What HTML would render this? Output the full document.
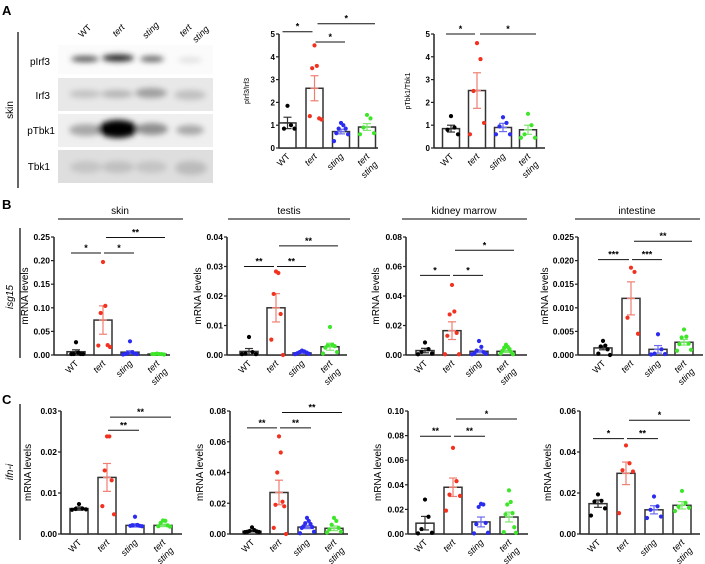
<!DOCTYPE html>
<html><head><meta charset="utf-8"><style>
html,body{margin:0;padding:0;background:#fff;}
svg{display:block;font-family:"Liberation Sans",Arial,sans-serif;}
</style></head><body>
<svg id="s" width="705" height="564" viewBox="0 0 705 564" xmlns="http://www.w3.org/2000/svg">
<defs>
<filter id="bl" x="-50%" y="-100%" width="200%" height="300%"><feGaussianBlur stdDeviation="3"/></filter>
</defs>
<text x="2" y="15" font-size="13" font-weight="bold">A</text>
<text x="2" y="209" font-size="13" font-weight="bold">B</text>
<text x="2" y="404" font-size="13" font-weight="bold">C</text>
<line x1="18" y1="32" x2="18" y2="188" stroke="#000" stroke-width="1.2"/>
<text transform="translate(13,110) rotate(-90)" font-size="10" text-anchor="middle">skin</text>
<rect x="58" y="45" width="155" height="29" fill="#fbfbfb"/>
<rect x="58" y="78" width="155" height="33" fill="#e8e8e8"/>
<rect x="58" y="114" width="155" height="33" fill="#efefef"/>
<rect x="58" y="150" width="155" height="33" fill="#dedede"/>
<g filter="url(#bl)">
<ellipse cx="85" cy="59" rx="14" ry="3" fill="#555"/>
<ellipse cx="118" cy="58" rx="16" ry="3.5" fill="#222"/>
<ellipse cx="152" cy="59" rx="12" ry="3" fill="#666"/>
<ellipse cx="190" cy="60" rx="12" ry="2.5" fill="#ddd"/>
<ellipse cx="85" cy="94" rx="16" ry="4" fill="#c2c2c2"/>
<ellipse cx="117" cy="94" rx="16" ry="4" fill="#b5b5b5"/>
<ellipse cx="151" cy="93" rx="16" ry="5" fill="#9e9e9e"/>
<ellipse cx="190" cy="95" rx="16" ry="5" fill="#c0c0c0"/>
<ellipse cx="86" cy="130" rx="17" ry="6" fill="#a8a8a8"/>
<ellipse cx="118" cy="129" rx="20" ry="9" fill="#000"/>
<ellipse cx="152" cy="129" rx="16" ry="6" fill="#8e8e8e"/>
<ellipse cx="190" cy="130" rx="14" ry="5" fill="#a8a8a8"/>
<ellipse cx="86" cy="167" rx="16" ry="6" fill="#c4c4c4"/>
<ellipse cx="118" cy="167" rx="16" ry="6" fill="#c0c0c0"/>
<ellipse cx="151" cy="167" rx="16" ry="6" fill="#c4c4c4"/>
<ellipse cx="191" cy="168" rx="16" ry="7" fill="#bbb"/>
</g>
<text x="50" y="65" font-size="10" text-anchor="end">pIrf3</text>
<text x="50" y="99" font-size="10" text-anchor="end">Irf3</text>
<text x="55" y="134" font-size="10" text-anchor="end">pTbk1</text>
<text x="50" y="170" font-size="10" text-anchor="end">Tbk1</text>
<g font-size="9">
<text transform="translate(82,38) rotate(-45)">WT</text>
<text transform="translate(116,37) rotate(-45)" font-style="italic">tert</text>
<text transform="translate(146,39) rotate(-45)" font-style="italic">sting</text>
<text transform="translate(183,37) rotate(-45)" font-style="italic">tert</text>
<text transform="translate(196,43) rotate(-45)" font-style="italic">sting</text>
</g>
<g stroke="#000" stroke-width="1">
<line x1="58" y1="219" x2="183" y2="219"/><line x1="228" y1="219" x2="350" y2="219"/>
<line x1="402" y1="219" x2="527" y2="219"/><line x1="575" y1="219" x2="700" y2="219"/>
<line x1="20" y1="228" x2="20" y2="358" stroke-width="1.2"/>
<line x1="20" y1="404" x2="20" y2="540" stroke-width="1.2"/>
</g>
<g font-size="10" text-anchor="middle">
<text x="120" y="214">skin</text><text x="289" y="214">testis</text>
<text x="464" y="214">kidney marrow</text><text x="637" y="214">intestine</text>
</g>
<text transform="translate(13,297) rotate(-90)" font-size="10" font-style="italic" text-anchor="middle">isg15</text>
<text transform="translate(13,472) rotate(-90)" font-size="10" font-style="italic" text-anchor="middle">ifn-i</text>
<g id="charts"></g>
</svg>
<script>
var NS="http://www.w3.org/2000/svg";
var G=document.getElementById("charts");
function el(t,a,txt){var e=document.createElementNS(NS,t);for(var k in a)e.setAttribute(k,a[k]);if(txt!==undefined)e.textContent=txt;G.appendChild(e);return e;}
var COL=["#000","#f2321f","#2b2cf0","#3ee62a"];
var ECOL=["#333","#ef7f72","#6d6df0","#7fe870"];
function chart(c){
 var ax=c.ax,yb=c.yb,yt=c.yt,max=c.max,cx=c.cx,fs=c.fs||8.5;
 function Y(v){return yb-(v/max)*(yb-yt);}
 el("line",{x1:ax,y1:yt,x2:ax,y2:yb,stroke:"#222","stroke-width":1.5});
 el("line",{x1:ax,y1:yb,x2:c.xe,y2:yb,stroke:"#222","stroke-width":1.5});
 for(var v=0;v<=max+1e-9;v+=c.step){
  var y=Y(v);
  el("line",{x1:ax-3,y1:y,x2:ax,y2:y,stroke:"#222","stroke-width":1.2});
  el("text",{x:ax-4,y:y+3,"font-size":fs,"font-weight":"bold","text-anchor":"end"},v.toFixed(c.dec));
 }
 el("text",{transform:"translate("+(c.lx)+","+((yt+yb)/2)+") rotate(-90)","font-size":c.lfs||10,"text-anchor":"middle"},c.ylab||"mRNA levels");
 var bw=c.bw||18;
 for(var i=0;i<4;i++){
  var g=c.g[i],m=g[0],se=g[1],pts=g[2],x=cx[i];
  el("rect",{x:x-bw/2,y:Y(m),width:bw,height:yb-Y(m),fill:"#fff",stroke:"#333","stroke-width":1.5});
  var lo=m-se<0?0:m-se;
  el("line",{x1:x-4,y1:Y(m),x2:x+4,y2:Y(m),stroke:ECOL[i],"stroke-width":1.3});
  el("line",{x1:x,y1:Y(m+se),x2:x,y2:Y(lo),stroke:ECOL[i],"stroke-width":1.2});
  el("line",{x1:x-4,y1:Y(m+se),x2:x+4,y2:Y(m+se),stroke:ECOL[i],"stroke-width":1.2});
  el("line",{x1:x-4,y1:Y(lo),x2:x+4,y2:Y(lo),stroke:ECOL[i],"stroke-width":1.2});
  var n=pts.length,half=Math.ceil((n-1)/2)||1;
  for(var j=0;j<n;j++){
   var off=n>1?((j%2?1:-1)*Math.ceil(j/2)*7/half):0;
   el("circle",{cx:x+off,cy:Y(pts[j]),r:2.1,fill:COL[i]});
  }
  var lab=[["WT"],["tert"],["sting"],["tert","sting"]][i];
  el("text",{transform:"translate("+(x+3)+","+(yb+9)+") rotate(-45)","font-size":9,"text-anchor":"end","font-style":i?"italic":"normal"},lab[0]);
  if(lab[1])el("text",{transform:"translate("+(x+11)+","+(yb+17)+") rotate(-45)","font-size":9,"text-anchor":"end","font-style":"italic"},lab[1]);
 }
 c.sig.forEach(function(s){
  var x1,x2;
  if(s[0]==0){x1=cx[0]-5;x2=cx[1]-2;}
  else if(s[1]==2){x1=cx[1]+1;x2=cx[2]+4;}
  else {x1=cx[1]+3;x2=cx[3]+8;}
  var y=Y(s[2]);
  el("line",{x1:x1,y1:y,x2:x2,y2:y,stroke:"#111","stroke-width":1});
  el("text",{x:(x1+x2)/2,y:y-2,"font-size":9,"font-weight":"bold","text-anchor":"middle"},s[3]);
 });
}
chart({ax:279,yb:148,yt:34,xe:378,max:5,step:1,dec:0,cx:[287.5,314.5,341,367],bw:17,lx:249,ylab:"pIrf3/Irf3",lfs:7,fs:8,
 g:[[1.1,.25,[1.85,1.0,.85,.85]],[2.62,.55,[4.5,3.6,3.5,1.3,1.4,1.25]],[.72,.1,[1.1,1.0,.85,.85,.65,.6,.3]],[.92,.15,[1.45,1.3,.9,.65,.6]]],
 sig:[[0,1,5.1,"*"],[1,2,4.65,"*"],[1,3,5.45,"*"]]});
chart({ax:434,yb:148,yt:34,xe:545,max:5,step:1,dec:0,cx:[451,477,503,528],bw:17,lx:410,ylab:"pTbk1/Tbk1",lfs:7,fs:8,
 g:[[.85,.15,[1.4,.9,.8,.6]],[2.52,.78,[4.6,3.9,2.5,1.1,.6]],[.9,.18,[1.35,1.1,.95,.6,.6]],[.8,.2,[1.5,1.0,.6,.45,.45]]],
 sig:[[0,1,5.0,"*"],[1,3,5.0,"*"]]});
chart({ax:54,yb:355,yt:237,xe:170,max:.25,step:.05,dec:2,cx:[76,103,130,157],lx:28,
 g:[[.007,.004,[.027,.005,.002,.002,.002,.002]],[.074,.03,[.197,.104,.089,.021,.020,.017]],[.006,.003,[.029,.006,.004,.003,.002,.002,.001]],[.002,.0005,[.003,.002,.002,.002,.002,.001]]],
 sig:[[0,1,.216,"*"],[1,2,.216,"*"],[1,3,.249,"**"]]});
chart({ax:227,yb:355,yt:237,xe:347,max:.04,step:.01,dec:2,cx:[249,276,302,330],lx:201,
 g:[[.0012,.001,[.0061,.001,.0005,.0003,.0003]],[.016,.0048,[.0283,.0278,.0207,.0139,.0052,0]],[.0007,.0002,[.0015,.0012,.001,.0008,.0006,.0004,.0003]],[.0028,.0012,[.0095,.0035,.0032,.003,.0025,.001,.0005]]],
 sig:[[0,1,.03,"**"],[1,2,.03,"**"],[1,3,.037,"**"]]});
chart({ax:406,yb:355,yt:237,xe:527,max:.08,step:.02,dec:2,cx:[425,452,479,506],lx:379,
 g:[[.003,.0015,[.0085,.004,.002,.001,.0005]],[.0165,.006,[.0475,.0295,.0275,.015,.013,.0005,.0005]],[.0025,.001,[.0095,.0055,.003,.002,.001,.0008,.0005]],[.0025,.0008,[.007,.0055,.005,.004,.003,.002,.001,.0005]]],
 sig:[[0,1,.054,"*"],[1,2,.054,"*"],[1,3,.071,"*"]]});
chart({ax:578,yb:355,yt:237,xe:703,max:.025,step:.005,dec:3,cx:[603,631,658,684],lx:548,
 g:[[.0015,.0004,[.003,.002,.0018,.0012,.0003,0]],[.012,.0035,[.0185,.0176,.0079,.0045]],[.0012,.0008,[.0044,.0012,.0003,.0002,.0001]],[.0027,.0006,[.0054,.0039,.0037,.0024,.0023,.0011,.0009]]],
 sig:[[0,1,.0202,"***"],[1,2,.0202,"***"],[1,3,.0241,"**"]]});
chart({ax:61,yb:534,yt:411,xe:182,max:.03,step:.01,dec:2,cx:[79,107,135,163],lx:31,
 g:[[.0062,.0004,[.0073,.0062,.0061,.006,.0059]],[.0138,.0034,[.0238,.0238,.0155,.0131,.0068,.0048]],[.0021,.0004,[.0042,.0022,.0021,.002,.002,.0019]],[.0021,.0003,[.0033,.0032,.0027,.0021,.0019,.0018]]],
 sig:[[1,2,.0253,"**"],[1,3,.0285,"**"]]});
chart({ax:230,yb:534,yt:411,xe:348,max:.08,step:.02,dec:2,cx:[252,279,307,334],lx:203,
 g:[[.0018,.0004,[.0043,.0025,.002,.0017,.0015,.0013,.0012]],[.027,.008,[.0635,.053,.04,.021,.019,.018,.004,0]],[.0045,.001,[.0105,.0085,.007,.0065,.005,.0045,.004,.0015,.0005]],[.0037,.0015,[.0105,.0085,.006,.004,.003,.0015,.001]]],
 sig:[[0,1,.069,"**"],[1,2,.069,"**"],[1,3,.079,"**"]]});
chart({ax:408,yb:534,yt:411,xe:528,max:.10,step:.02,dec:2,cx:[425,453,481,509],lx:381,
 g:[[.0088,.0055,[.028,.014,.004,.001,.0005]],[.038,.0075,[.07,.043,.032,.031,.019]],[.0098,.004,[.0245,.024,.022,.009,.008,.001,.0005]],[.0138,.004,[.0355,.026,.024,.017,.016,.0055,.0015,.001]]],
 sig:[[0,1,.0795,"**"],[1,2,.0795,"**"],[1,3,.0935,"*"]]});
chart({ax:580,yb:534,yt:411,xe:700,max:.06,step:.02,dec:2,cx:[598,626,654,682],lx:551,
 g:[[.0148,.0018,[.0193,.0162,.0158,.0125,.009]],[.0296,.0055,[.0432,.0345,.0311,.0305,.0102]],[.0118,.002,[.0183,.0135,.0118,.0085,.0078]],[.014,.0018,[.021,.0152,.0133,.0128,.0112]]],
 sig:[[0,1,.0465,"*"],[1,2,.0465,"**"],[1,3,.0555,"*"]]});
</script>
</body></html>
